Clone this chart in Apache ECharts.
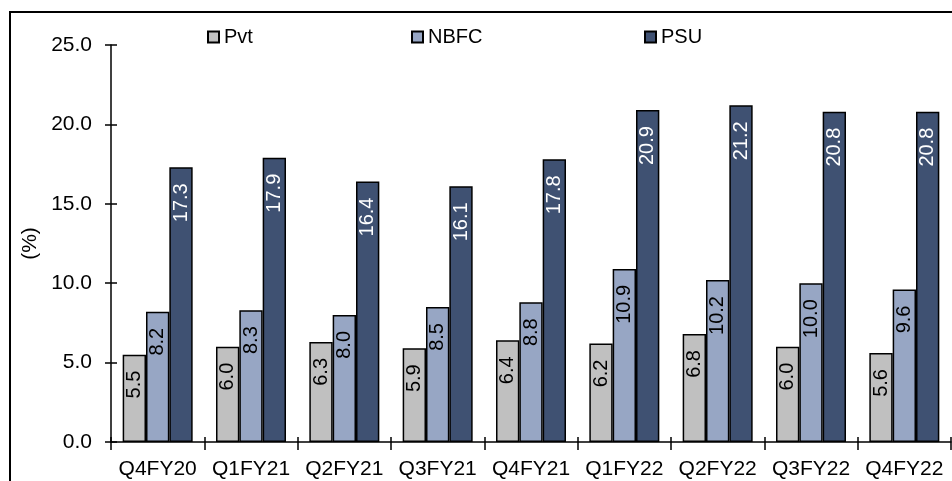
<!DOCTYPE html>
<html>
<head>
<meta charset="utf-8">
<script src="https://cdn.jsdelivr.net/npm/echarts@6/dist/echarts.min.js"></script>
<style>
  html, body { margin: 0; padding: 0; background: #fff; }
  #chart { width: 952px; height: 481px; }
</style>
</head>
<body>
<div id="chart"></div>
<script>
// Quarterly ratios (%) by lender group
const quarters = ['Q4FY20', 'Q1FY21', 'Q2FY21', 'Q3FY21', 'Q4FY21', 'Q1FY22', 'Q2FY22', 'Q3FY22', 'Q4FY22'];
const pvtValues  = [5.5, 6.0, 6.3, 5.9, 6.4, 6.2, 6.8, 6.0, 5.6];
const nbfcValues = [8.2, 8.3, 8.0, 8.5, 8.8, 10.9, 10.2, 10.0, 9.6];
const psuValues  = [17.3, 17.9, 16.4, 16.1, 17.8, 20.9, 21.2, 20.8, 20.8];
const seriesNames = ['Pvt', 'NBFC', 'PSU'];
const yTicks = [0, 5, 10, 15, 20, 25];

const FONT = "'Liberation Sans', Arial, sans-serif";
const colors = ['#c0c0c0', '#97a6c4', '#3f5172'];
const labelColors = ['#000', '#000', '#fff'];

const chart = echarts.init(document.getElementById('chart'), null, { renderer: 'canvas' });

function barSeries(name, data, i) {
  return {
    name: name,
    type: 'bar',
    data: data,
    barGap: '0%',
    barCategoryGap: '25%',
    itemStyle: { color: colors[i], borderColor: '#000', borderWidth: 1.5 },
    label: {
      show: true,
      position: 'insideTop',
      rotate: 90,
      align: 'right',
      verticalAlign: 'middle',
      distance: 16,
      fontFamily: FONT,
      fontSize: 20,
      color: labelColors[i],
      formatter: p => p.value.toFixed(1)
    }
  };
}

const legendBase = {
  orient: 'horizontal',
  top: 27,
  padding: 0,
  itemWidth: 11,
  itemHeight: 11,
  itemGap: 0,
  icon: 'rect',
  textStyle: { fontFamily: FONT, fontSize: 20, color: '#000', padding: [0, 0, 0, 0] },
  selectedMode: false
};

const option = {
  backgroundColor: '#fff',
  animation: false,
  grid: { left: 111, right: 1, top: 45, bottom: 39, containLabel: false },
  legend: [
    Object.assign({}, legendBase, { left: 207, data: [seriesNames[0]] }),
    Object.assign({}, legendBase, { left: 411, data: [seriesNames[1]] }),
    Object.assign({}, legendBase, { left: 644, data: [seriesNames[2]] })
  ],
  xAxis: [
    {
      type: 'category',
      data: quarters,
      axisLine: { lineStyle: { color: '#000', width: 1.5 } },
      axisTick: { show: true, length: 8, lineStyle: { color: '#000', width: 1.5 } },
      axisLabel: { interval: 0, fontFamily: FONT, fontSize: 21, color: '#000', margin: 17 },
      splitLine: { show: false }
    },
    {
      type: 'category',
      data: quarters,
      position: 'bottom',
      axisLine: { show: false },
      axisTick: { show: true, inside: true, length: 5, lineStyle: { color: '#000', width: 1.5 } },
      axisLabel: { show: false },
      splitLine: { show: false }
    }
  ],
  yAxis: [
    {
      type: 'value',
      min: yTicks[0],
      max: yTicks[yTicks.length - 1],
      interval: 5,
      name: '(%)',
      nameLocation: 'middle',
      nameRotate: 90,
      nameGap: 66,
      nameTextStyle: { fontFamily: FONT, fontSize: 21, color: '#000' },
      axisLine: { show: true, lineStyle: { color: '#000', width: 1.5 } },
      axisTick: { show: true, length: 6, lineStyle: { color: '#000', width: 1.5 } },
      axisLabel: { fontFamily: FONT, fontSize: 21, color: '#000', margin: 19, formatter: v => v.toFixed(1) },
      splitLine: { show: false }
    },
    {
      type: 'value',
      min: yTicks[0],
      max: yTicks[yTicks.length - 1],
      interval: 5,
      position: 'left',
      axisLine: { show: false },
      axisTick: { show: true, inside: true, length: 6, lineStyle: { color: '#000', width: 1.5 } },
      axisLabel: { show: false },
      splitLine: { show: false }
    }
  ],
  graphic: [
    {
      type: 'rect',
      silent: true,
      shape: { x: 10, y: 12, width: 1100, height: 1100 },
      style: { fill: null, stroke: '#000', lineWidth: 2 }
    }
  ],
  series: [
    barSeries(seriesNames[0], pvtValues, 0),
    barSeries(seriesNames[1], nbfcValues, 1),
    barSeries(seriesNames[2], psuValues, 2)
  ]
};

chart.setOption(option);
</script>
</body>
</html>
